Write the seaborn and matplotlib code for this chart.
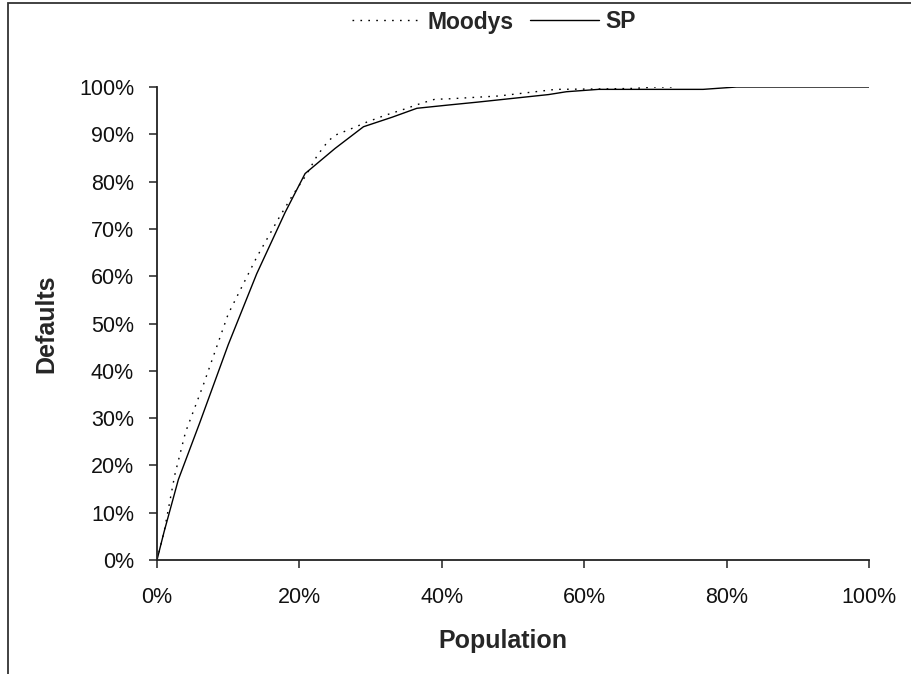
import numpy as np
import pandas as pd
import seaborn as sns
import matplotlib
matplotlib.use("Agg")
import matplotlib.pyplot as plt
from matplotlib.patches import Rectangle
from matplotlib.ticker import PercentFormatter

# cumulative accuracy profile (percent)
moodys_pop = [0, 1, 2.5, 4, 6.5, 10, 14, 17, 19, 21, 22.5, 24, 25, 27, 29.5, 32, 34.5, 37, 39, 41, 48, 56, 63, 67, 70, 72.5]
moodys_def = [0, 6, 18, 27, 37, 52, 64, 72, 77, 81.5, 85.5, 88.5, 89.8, 91, 92.6, 94, 95.2, 96.5, 97.4, 97.5, 98.1, 99.5, 99.6, 99.7, 100, 100]

sp_pop = [0, 1, 3, 6, 10, 14, 18, 20.8, 25, 29, 33, 36.5, 41, 45, 50, 55, 57.5, 62, 70, 76.7, 81.4, 90, 100]
sp_def = [0, 6, 17, 29, 45.5, 60.5, 73.5, 81.7, 87, 91.6, 93.6, 95.5, 96.2, 96.8, 97.6, 98.4, 99.0, 99.5, 99.5, 99.5, 100, 100, 100]

series_names = ["Moodys", "SP"]
x_ticks = [0, 20, 40, 60, 80, 100]
y_ticks = [0, 10, 20, 30, 40, 50, 60, 70, 80, 90, 100]

df = pd.concat([
    pd.DataFrame({"Population": moodys_pop, "Defaults": moodys_def, "series": "Moodys"}),
    pd.DataFrame({"Population": sp_pop, "Defaults": sp_def, "series": "SP"}),
], ignore_index=True)

sns.set_style("white")
plt.rcParams["font.family"] = ["Liberation Sans", "DejaVu Sans"]

fig = plt.figure(figsize=(9.12, 6.74), dpi=100)
ax = fig.add_axes([157 / 912, 1 - 560 / 674, 712 / 912, 473 / 674])

sns.lineplot(data=df, x="Population", y="Defaults", style="series",
             style_order=series_names, dashes={"Moodys": (1.2, 4.5), "SP": ""},
             color="black", linewidth=1.0, legend=False, ax=ax)

ax.set_xlim(0, 100)
ax.set_ylim(0, 100)
ax.set_xticks(x_ticks)
ax.set_yticks(y_ticks)
ax.xaxis.set_major_formatter(PercentFormatter(decimals=0))
ax.yaxis.set_major_formatter(PercentFormatter(decimals=0))
ax.tick_params(axis="both", direction="out", length=5.5, width=1.1,
               color="#222222", labelsize=15.5, labelcolor="#111111")
ax.tick_params(axis="x", pad=14)
ax.tick_params(axis="y", pad=11)
ax.tick_params(left=True, bottom=True)

for side in ["top", "right"]:
    ax.spines[side].set_visible(False)
for side in ["left", "bottom"]:
    ax.spines[side].set_color("#222222")
    ax.spines[side].set_linewidth(1.3)

ax.set_xlabel("Population", fontsize=18, fontweight="bold")
ax.set_ylabel("Defaults", fontsize=18, fontweight="bold")
ax.xaxis.set_label_coords(0.486, -0.146)
ax.yaxis.set_label_coords(-0.139, 0.5)

lines = ax.get_lines()
leg = fig.legend(lines[:2], series_names, loc="center", bbox_to_anchor=(494 / 912, 1 - 22 / 674),
                 ncol=2, frameon=False, handlelength=3.0, columnspacing=0.7, handletextpad=0.3,
                 prop={"size": 16.5, "weight": "bold"})

# outer chart frame, only left and top edges are inside the image
fig.patches.append(Rectangle((8 / 912, -0.2), 1.5, 1.2 - 3 / 674, transform=fig.transFigure,
                             fill=False, edgecolor="#333333", linewidth=1.3))

fig.savefig("out.png", dpi=100)
